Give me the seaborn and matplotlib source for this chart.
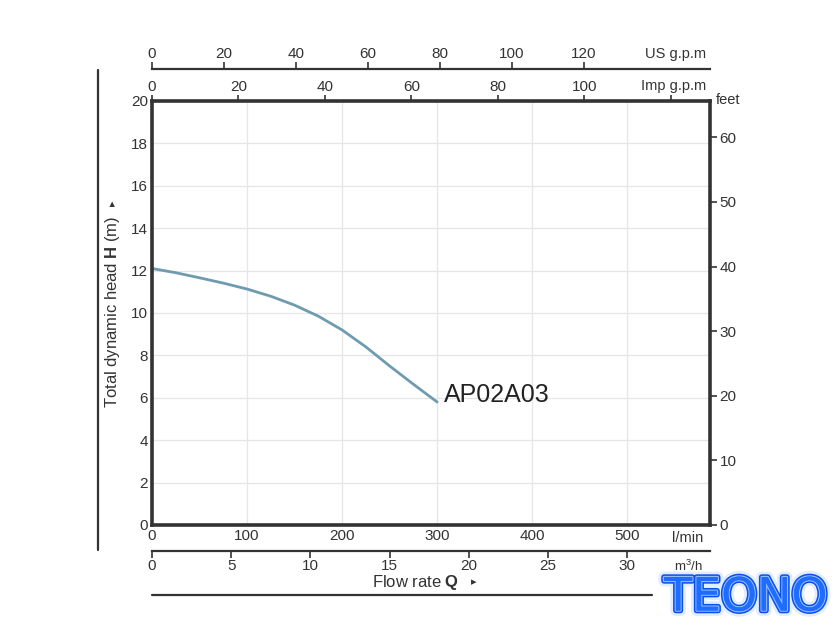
import numpy as np
import pandas as pd
import seaborn as sns
from matplotlib import pyplot as plt
import matplotlib.patheffects as pe

# pump curve
flow_lpm = [0, 25, 50, 75, 100, 125, 150, 175, 200, 225, 250, 275, 300]
head_m = [12.1, 11.9, 11.66, 11.41, 11.13, 10.79, 10.37, 9.85, 9.2, 8.4, 7.5, 6.64, 5.8]
model_name = 'AP02A03'

lpm_ticks = [0, 100, 200, 300, 400, 500]
m3h_ticks = [0, 5, 10, 15, 20, 25, 30]
usgpm_ticks = [0, 20, 40, 60, 80, 100, 120]
impgpm_ticks = [0, 20, 40, 60, 80, 100, 120]
impgpm_labels = ['0', '20', '40', '60', '80', '100', '']
head_ticks = list(range(0, 21, 2))
feet_ticks = [0, 10, 20, 30, 40, 50, 60]

sns.set_theme(style='white')
plt.rcParams['font.family'] = ['Liberation Sans', 'DejaVu Sans']
plt.rcParams['mathtext.fontset'] = 'custom'
plt.rcParams['mathtext.bf'] = 'Liberation Sans:bold'
plt.rcParams['mathtext.rm'] = 'Liberation Sans'

dark = '#333333'
txt = '#333333'
fs = 11

fig = plt.figure(figsize=(8.4, 6.4), dpi=100)
ax = fig.add_axes([152/840, 1-525/640, (710-152)/840, (525-101)/640])

df = pd.DataFrame({'q': flow_lpm, 'h': head_m})
sns.lineplot(data=df, x='q', y='h', ax=ax, color='#6f9bb0', linewidth=2)
ax.text(307, 6.15, model_name, fontsize=18, color='#222222', va='center', ha='left')

ax.set_xlim(0, 587)
ax.set_ylim(0, 20)
ax.set_xticks(lpm_ticks)
ax.set_yticks(head_ticks)
ax.set_xlabel('')
ax.set_ylabel('')
ax.grid(True, color='#e6e6e6', linewidth=0.9)
for s in ax.spines.values():
    s.set_color(dark)
    s.set_linewidth(2.6)
ax.tick_params(axis='both', length=0, labelsize=fs, labelcolor=txt, pad=3)

# conversions
lpm_per_usg = 3.785
lpm_per_imp = 4.546
ft_per_m = 3.2808

imp = ax.secondary_xaxis('top', functions=(lambda q: q/lpm_per_imp, lambda g: g*lpm_per_imp))
imp.set_xticks(impgpm_ticks, impgpm_labels)
imp.tick_params(direction='out', length=4, width=1.2, color=dark, labelsize=fs, labelcolor=txt, pad=1)
imp.spines['top'].set_visible(False)

us = ax.secondary_xaxis(1 + (101-69)/424, functions=(lambda q: q/lpm_per_usg, lambda g: g*lpm_per_usg))
us.set_xticks(usgpm_ticks)
us.tick_params(direction='out', length=5, width=1.2, color=dark, labelsize=fs, labelcolor=txt, pad=1)
us.spines['top'].set_color(dark)
us.spines['top'].set_linewidth(1.6)

m3h = ax.secondary_xaxis(-(551-525)/424, functions=(lambda q: q*0.06, lambda v: v/0.06))
m3h.set_xticks(m3h_ticks)
m3h.tick_params(direction='out', length=5, width=1.2, color=dark, labelsize=fs, labelcolor=txt, pad=1)
m3h.spines['bottom'].set_color(dark)
m3h.spines['bottom'].set_linewidth(1.6)

feet = ax.secondary_yaxis('right', functions=(lambda m: m*ft_per_m, lambda f: f/ft_per_m))
feet.set_yticks(feet_ticks)
feet.tick_params(direction='out', length=5, width=1.2, color=dark, labelsize=fs, labelcolor=txt, pad=2)
feet.spines['right'].set_visible(False)

# unit labels
fig.text(676/840, 1-54/640, 'US g.p.m', fontsize=10.5, color=txt, ha='center', va='center')
fig.text(674/840, 1-86/640, 'Imp g.p.m', fontsize=10.5, color=txt, ha='center', va='center')
fig.text(728/840, 1-100/640, 'feet', fontsize=10.5, color=txt, ha='center', va='center')
fig.text(688/840, 1-538/640, 'l/min', fontsize=10.5, color=txt, ha='center', va='center')
fig.text(688/840, 1-566/640, 'm$^3$/h', fontsize=9.5, color=txt, ha='center', va='center')

# axis titles
fig.text(112/840, 1-312/640, 'Total dynamic head $\\mathbf{H}$ (m)', fontsize=12, color=txt,
         rotation=90, ha='center', va='center')
fig.text(113/840, 1-203/640, '\u25b8', fontsize=8, color=txt, rotation=90,
         ha='center', va='center', family='DejaVu Sans')
fig.text(416/840, 1-582/640, 'Flow rate $\\mathbf{Q}$', fontsize=12, color=txt, ha='center', va='center')
fig.text(474/840, 1-582/640, '\u25b8', fontsize=8, color=txt, ha='center', va='center',
         family='DejaVu Sans')

# decorative rules
fig.add_artist(plt.Line2D([98/840, 98/840], [1-70/640, 1-550/640], color=dark, linewidth=1.6))
fig.add_artist(plt.Line2D([152/840, 652/840], [1-595/640, 1-595/640], color=dark, linewidth=1.6))

# logo
fig.text(746/840, 1-598/640, 'TEONO', fontsize=33, color='#1f6dff', ha='center', va='center',
         family='DejaVu Sans',
         path_effects=[pe.withStroke(linewidth=8, foreground='#d4e4ff', alpha=0.7),
                       pe.withStroke(linewidth=4, foreground='#0a4fe8'),
                       pe.withStroke(linewidth=1.8, foreground='#8fbaff'),
                       pe.Normal()])

fig.savefig('out.png', dpi=100)
